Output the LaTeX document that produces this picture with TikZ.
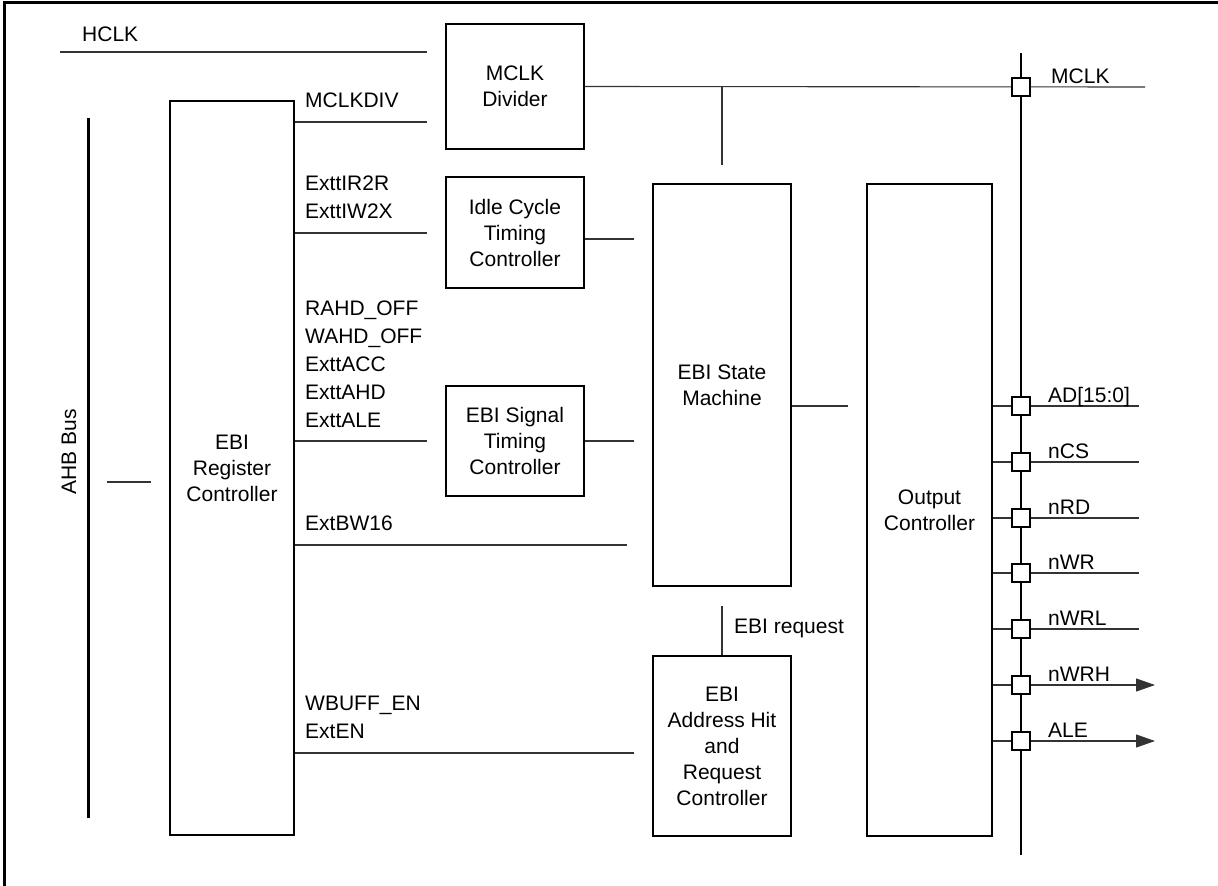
\documentclass[tikz,border=0pt]{standalone}
\usepackage{fontspec}
\setmainfont{Liberation Sans}
\usetikzlibrary{arrows.meta}
\tikzset{
  blk/.style={draw,line width=1.1pt,align=center,inner sep=2pt},
  sig/.style={draw=black!80,line width=1.1pt},
  sigtxt/.style={anchor=west,align=left,inner sep=0pt,font=\fontsize{21}{28}\selectfont},
  padsq/.style={draw,fill=white,line width=1.3pt,minimum size=18pt,inner sep=0pt},
  outarr/.style={-{Triangle[length=19pt,width=13pt]}}
}

\begin{document}
\begin{tikzpicture}[x=1pt,y=-1pt,font=\fontsize{21}{26}\selectfont]
\useasboundingbox (0,0) rectangle (1218,886);
\draw[line width=3pt] (4,886) -- (4,2) -- (1218,2);

% blocks
\node[blk,minimum width=124,minimum height=734] (reg) at (232,468) {EBI\\Register\\Controller};
\node[blk,minimum width=138,minimum height=125] (div) at (515,86.5) {MCLK\\Divider};
\node[blk,minimum width=138,minimum height=111] (idle) at (515,232.5) {Idle Cycle\\Timing\\Controller};
\node[blk,minimum width=138,minimum height=110] (sigt) at (515,441) {EBI Signal\\Timing\\Controller};
\node[blk,minimum width=138,minimum height=402] (state) at (722,385) {EBI State\\Machine};
\node[blk,minimum width=138,minimum height=180] (addr) at (722,746) {EBI\\Address Hit\\and\\Request\\Controller};
\node[blk,minimum width=125,minimum height=652] (out) at (929.5,510) {Output\\Controller};

% AHB bus
\coordinate (ahbtop) at (88,118);
\coordinate (ahbbot) at (88,818);
\draw[line width=3pt] (ahbtop) -- (ahbbot);
\node[rotate=90] (ahbtxt) at (69,452) {AHB Bus};
\draw[sig,shorten <=19,shorten >=18] (ahbtop |- 0,482) -- (reg.west |- 0,482);

% clock
\coordinate (hclkin) at (60,52);
\node[sigtxt] (hclk) at (82,34) {HCLK};
\draw[sig,shorten >=18] (hclkin) -- (div.west |- hclkin);

% register outputs
\node[sigtxt] (mdiv) at (305,100) {MCLKDIV};
\node[sigtxt] (idlesig) at (305,197) {ExttIR2R\\ExttIW2X};
\node[sigtxt] (timsig) at (305,364) {RAHD\_OFF\\WAHD\_OFF\\ExttACC\\ExttAHD\\ExttALE};
\node[sigtxt] (bwsig) at (305,523) {ExtBW16};
\node[sigtxt] (ensig) at (305,717) {WBUFF\_EN\\ExtEN};
\draw[sig,shorten >=18] (reg.east |- 0,122) -- (div.west |- 0,122);
\draw[sig,shorten >=18] (reg.east |- 0,233) -- (idle.west |- 0,233);
\draw[sig,shorten >=18] (reg.east |- sigt.west) -- (sigt.west);
\draw[sig,shorten >=25] (reg.east |- 0,545) -- (state.west |- 0,545);
\draw[sig,shorten >=18] (reg.east |- 0,753) -- (addr.west |- 0,753);

% into / out of state machine
\draw[sig,shorten >=18] (idle.east |- 0,239) -- (state.west |- 0,239);
\draw[sig,shorten >=18] (sigt.east) -- (state.west |- sigt.east);
\draw[sig,shorten >=18] (state.east |- 0,406) -- (out.west |- 0,406);
\draw[sig,shorten >=18] (state.north |- div.east) -- (state.north);
\draw[sig,shorten >=19] (addr.north) -- (state.south);
\node[sigtxt] (reqtxt) at (734,628) {EBI request};

% output pins
\coordinate (bustop) at (1021,53);
\coordinate (busbot) at (1021,855);
\coordinate (mclkend) at (1145,87);
\draw[line width=1.6pt] (bustop) -- (busbot);
\draw[sig] (div.east) -- (mclkend);
\node[padsq] (pmclk) at (1021,87) {};
\node[sigtxt,anchor=base west] (lmclk) at (1051,83) {MCLK};
\foreach \lbl/\yy/\xe/\tip in {{AD[15:0]}/406/1139/-,nCS/462/1139/-,nRD/518/1139/-,
    nWR/573/1139/-,nWRL/629/1139/-,nWRH/685/1155/outarr,ALE/741/1155/outarr}{
  \draw[sig,\tip] (out.east |- 0,\yy) -- (\xe,\yy);
  \node[padsq] (p\yy) at (1021,\yy) {};
  \node[sigtxt,anchor=base west] (l\yy) at (1048,\yy-4) {\lbl};
}
\end{tikzpicture}
\end{document}
